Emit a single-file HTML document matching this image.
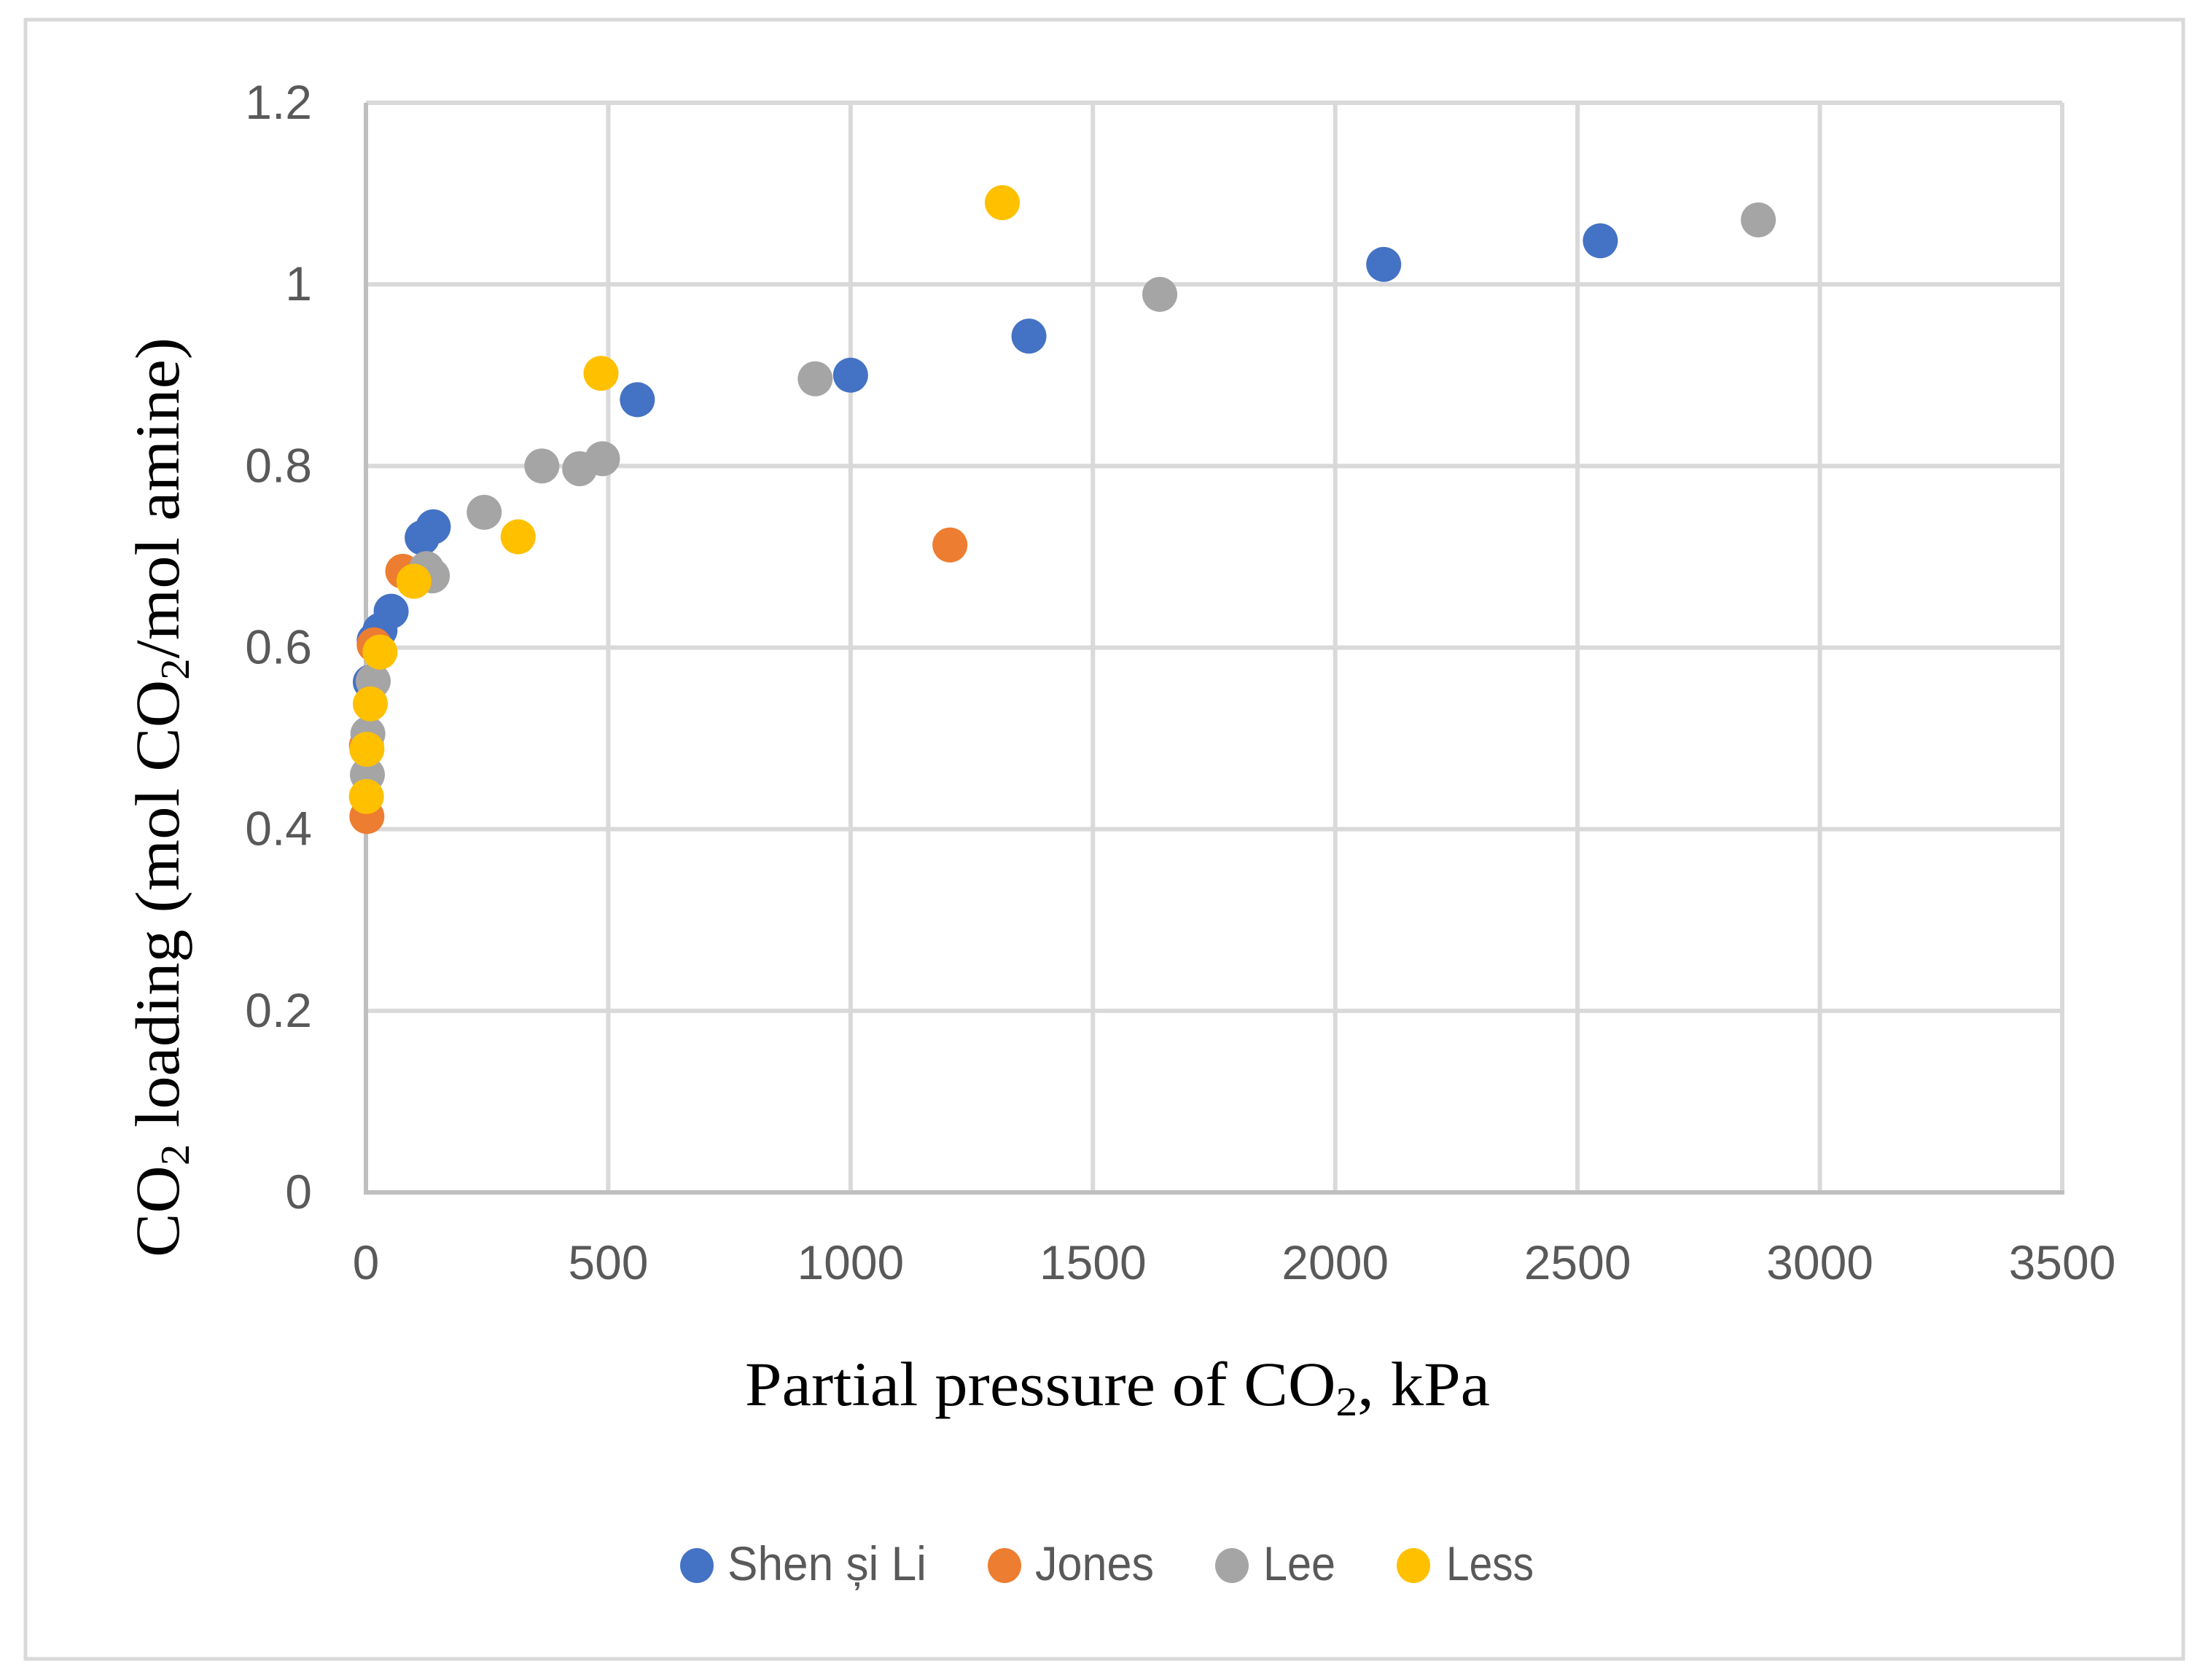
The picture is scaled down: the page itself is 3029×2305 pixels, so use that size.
<!DOCTYPE html>
<html><head><meta charset="utf-8"><style>html,body{margin:0;padding:0;background:#fff}svg{display:block}</style></head>
<body>
<svg id="chart" width="3029" height="2305" viewBox="0 0 3029 2305" xmlns="http://www.w3.org/2000/svg">
<rect x="35" y="27" width="2960" height="2249" fill="#fff" stroke="#d9d9d9" stroke-width="5"/>
<g id="grid"></g>
<g id="ticks" font-family="Liberation Sans, sans-serif" font-size="66" fill="#595959"></g>
<g id="marks"></g>
<text x="1022" y="1928" font-family="Liberation Serif, serif" font-size="86" fill="#000" textLength="1022" lengthAdjust="spacingAndGlyphs">Partial pressure of CO<tspan font-size="56" dy="14">2</tspan><tspan dy="-14">, kPa</tspan></text>
<text transform="translate(245,1725) rotate(-90)" x="0" y="0" font-family="Liberation Serif, serif" font-size="86" fill="#000" textLength="1262" lengthAdjust="spacingAndGlyphs">CO<tspan font-size="56" dy="14">2</tspan><tspan dy="-14"> loading (mol CO</tspan><tspan font-size="56" dy="14">2</tspan><tspan dy="-14">/mol amine)</tspan></text>
<g id="legend" font-family="Liberation Sans, sans-serif" font-size="66" fill="#595959"></g>
</svg>
<script>
const seriesNames = ["Shen și Li", "Jones", "Lee", "Less"];
const shenX = [560, 1000, 1368, 2100, 2547, 139, 116, 52, 29, 17, 9];
const shenY = [0.873, 0.900, 0.943, 1.022, 1.048, 0.733, 0.721, 0.640, 0.619, 0.608, 0.562];
const jonesX = [1205, 76, 17, 1, 2];
const jonesY = [0.713, 0.684, 0.603, 0.492, 0.414];
const leeX = [2873, 1638, 927, 488, 441, 363, 244, 137, 125, 15, 4, 3];
const leeY = [1.071, 0.989, 0.896, 0.808, 0.797, 0.800, 0.749, 0.679, 0.687, 0.563, 0.505, 0.460];
const lessX = [1313, 485, 314, 99, 29, 9, 2, 1];
const lessY = [1.090, 0.902, 0.722, 0.673, 0.595, 0.538, 0.488, 0.436];
const xTicks = [0, 500, 1000, 1500, 2000, 2500, 3000, 3500];
const yTicks = [0, 0.2, 0.4, 0.6, 0.8, 1, 1.2];
const yTickLabels = ["0", "0.2", "0.4", "0.6", "0.8", "1", "1.2"];

const NS = "http://www.w3.org/2000/svg";
const X0 = 502, X1 = 2829, Y0 = 1636, Y1 = 141;
const xs = v => X0 + (v / 3500) * (X1 - X0);
const ys = v => Y0 - (v / 1.2) * (Y0 - Y1);
function mk(tag, attrs, parent) { const e = document.createElementNS(NS, tag); for (const k in attrs) e.setAttribute(k, attrs[k]); parent.appendChild(e); return e; }

const grid = document.getElementById('grid');
yTicks.forEach((t, i) => {
  if (i === 0) return;
  const l = mk('line', {x1: X0, x2: X1, y1: ys(t), y2: ys(t), stroke: '#d9d9d9', 'stroke-width': 6}, grid);
  
  
});
xTicks.forEach((t, i) => {
  if (i === 0) return;
  const l = mk('line', {x1: xs(t), x2: xs(t), y1: Y0, y2: Y1, stroke: '#d9d9d9', 'stroke-width': 6}, grid);
  
  
});
const ya = mk('line', {x1: X0, x2: X0, y1: Y0 + 3, y2: Y1, stroke: '#bfbfbf', 'stroke-width': 6}, grid);


const xa = mk('line', {x1: X0, x2: X1 + 3, y1: Y0, y2: Y0, stroke: '#bfbfbf', 'stroke-width': 6}, grid);



const ticks = document.getElementById('ticks');
yTicks.forEach((t, i) => {
  const e = mk('text', {x: 428, y: ys(t) + 22, 'text-anchor': 'end'}, ticks);
  e.textContent = yTickLabels[i];
  
  
});
xTicks.forEach(t => {
  const e = mk('text', {x: xs(t), y: 1755, 'text-anchor': 'middle'}, ticks);
  e.textContent = String(t);
  
  
});

const colors = ['#4472c4', '#ed7d31', '#a5a5a5', '#ffc000'];
const allX = [shenX, jonesX, leeX, lessX], allY = [shenY, jonesY, leeY, lessY];
const marks = document.getElementById('marks');
allX.forEach((arr, s) => {
  arr.forEach((v, i) => {
    const c = mk('circle', {cx: xs(v), cy: ys(allY[s][i]), r: 24, fill: colors[s]}, marks);
    
    
  });
});

const legend = document.getElementById('legend');
const lgMarkX = [956, 1378, 1690, 1939], lgTextX = [998, 1420, 1733, 1984], lgLen = [273, 163, 99, 120];
seriesNames.forEach((n, s) => {
  const c = mk('ellipse', {cx: lgMarkX[s], cy: 2148, rx: 23, ry: 24, fill: colors[s]}, legend);
  
  
  const t = mk('text', {x: lgTextX[s], y: 2168, textLength: lgLen[s], lengthAdjust: 'spacingAndGlyphs'}, legend);
  t.textContent = n;
  
  
});
</script>
</body></html>
